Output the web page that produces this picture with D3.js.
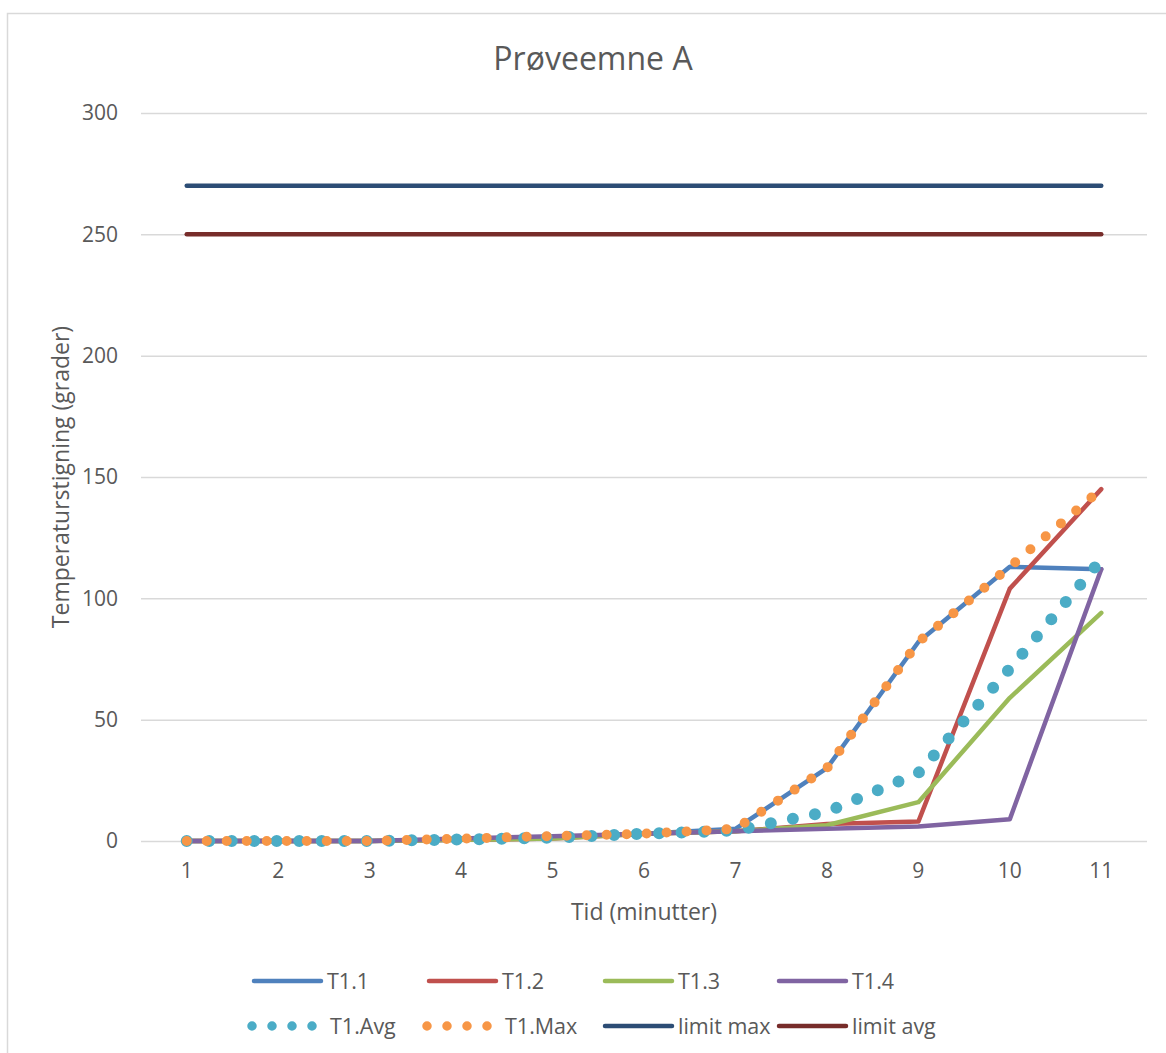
<!DOCTYPE html>
<html>
<head>
<meta charset="utf-8">
<script src="https://cdn.jsdelivr.net/npm/d3@7"></script>
<style>
  html, body { margin: 0; padding: 0; background: #fff; }
  svg { display: block; }
  text { font-family: "Open Sans", sans-serif; fill: #595959; }
</style>
</head>
<body>
<svg id="chart" width="1166" height="1053"></svg>
<script>
// Minutes along the x axis
const minutes = ["1", "2", "3", "4", "5", "6", "7", "8", "9", "10", "11"];

// Temperature rise per sensor (degrees)
const t11 = [0, 0, 0, 0.5, 1.5, 3, 5, 30, 82, 113, 112];
const t12 = [0, 0, 0, 0.5, 1, 3, 4, 7, 8, 104, 145];
const t13 = [0, 0, 0, 0.5, 1, 3, 4, 6.5, 16, 59, 94];
const t14 = [0, 0, 0, 1, 2, 3, 4, 5, 6, 9, 112];
const t1Avg = [0, 0, 0, 0.6, 1.4, 3, 4.3, 12, 28, 71, 116];
const t1Max = [0, 0, 0, 1, 2, 3, 5, 30, 82, 113, 145];
const limitMax = [270, 270, 270, 270, 270, 270, 270, 270, 270, 270, 270];
const limitAvg = [250, 250, 250, 250, 250, 250, 250, 250, 250, 250, 250];

const yTicks = [0, 50, 100, 150, 200, 250, 300];

const series = [
  { name: "T1.1", values: t11, color: "#4F81BD", width: 4.5 },
  { name: "T1.2", values: t12, color: "#C0504D", width: 4.5 },
  { name: "T1.3", values: t13, color: "#9BBB59", width: 4.5 },
  { name: "T1.4", values: t14, color: "#8064A2", width: 4.5 },
  { name: "T1.Avg", values: t1Avg, color: "#4BACC6", width: 12, dash: "0 22.5" },
  { name: "T1.Max", values: t1Max, color: "#F79646", width: 10, dash: "0 20" },
  { name: "limit max", values: limitMax, color: "#2C4D75", width: 4.5 },
  { name: "limit avg", values: limitAvg, color: "#772C2A", width: 4.5 }
];

const svg = d3.select("#chart");

// chart frame
svg.append("rect")
  .attr("x", 7.5).attr("y", 13.5)
  .attr("width", 1200).attr("height", 1100)
  .attr("fill", "none").attr("stroke", "#d9d9d9").attr("stroke-width", 1.5);

const plot = { left: 141, right: 1147, top: 113, bottom: 841 };

const x = d3.scaleBand().domain(minutes).range([plot.left, plot.right]).padding(0);
const cx = d => x(d) + x.bandwidth() / 2;
const y = d3.scaleLinear().domain([0, 300]).range([plot.bottom, plot.top]);

// y axis with gridlines
const yAxis = svg.append("g")
  .attr("transform", `translate(${plot.left},0)`)
  .call(d3.axisLeft(y).tickValues(yTicks).tickSize(-(plot.right - plot.left)).tickPadding(23));
yAxis.select(".domain").remove();
yAxis.selectAll(".tick line").attr("stroke", "#d9d9d9").attr("stroke-width", 1.5);
yAxis.selectAll(".tick text").attr("font-size", 21).attr("fill", "#595959")
  .style("font-family", "'Open Sans', sans-serif");

// x axis labels
const xAxis = svg.append("g")
  .attr("transform", `translate(0,${plot.bottom})`)
  .call(d3.axisBottom(x).tickSize(0).tickPadding(22));
xAxis.select(".domain").remove();
xAxis.selectAll(".tick text").attr("font-size", 21).attr("fill", "#595959")
  .style("font-family", "'Open Sans', sans-serif");

// series lines
const line = d3.line()
  .x((d, i) => cx(minutes[i]))
  .y(d => y(d));

series.forEach(s => {
  svg.append("path")
    .datum(s.values)
    .attr("d", line)
    .attr("fill", "none")
    .attr("stroke", s.color)
    .attr("stroke-width", s.width)
    .attr("stroke-linecap", "round")
    .attr("stroke-linejoin", "round")
    .attr("stroke-dasharray", s.dash || null);
});

// title
svg.append("text")
  .attr("x", 593).attr("y", 70)
  .attr("text-anchor", "middle")
  .attr("font-size", 32)
  .text("Prøveemne A");

// axis titles
svg.append("text")
  .attr("x", 644).attr("y", 920)
  .attr("text-anchor", "middle")
  .attr("font-size", 23)
  .text("Tid (minutter)");

svg.append("text")
  .attr("transform", "translate(69,477) rotate(-90)")
  .attr("text-anchor", "middle")
  .attr("font-size", 23)
  .text("Temperaturstigning (grader)");

// legend
const legendPos = [
  { x: 252, y: 981 }, { x: 427, y: 981 }, { x: 603, y: 981 }, { x: 777, y: 981 },
  { x: 252, y: 1026 }, { x: 427, y: 1026 }, { x: 603, y: 1026 }, { x: 777, y: 1026 }
];

series.forEach((s, i) => {
  const p = legendPos[i];
  const g = svg.append("g").attr("transform", `translate(${p.x},${p.y})`);
  if (s.dash) {
    g.append("line")
      .attr("x1", 0).attr("x2", 61).attr("y1", 0).attr("y2", 0)
      .attr("stroke", s.color).attr("stroke-width", 9.5)
      .attr("stroke-linecap", "round").attr("stroke-dasharray", "0 20");
    g.append("text").attr("x", 78).attr("y", 8).attr("font-size", 21.5).text(s.name);
  } else {
    g.append("line")
      .attr("x1", 2).attr("x2", 69).attr("y1", 0).attr("y2", 0)
      .attr("stroke", s.color).attr("stroke-width", 4.5)
      .attr("stroke-linecap", "round");
    g.append("text").attr("x", 75).attr("y", 8).attr("font-size", 21.5).text(s.name);
  }
});
</script>
</body>
</html>
